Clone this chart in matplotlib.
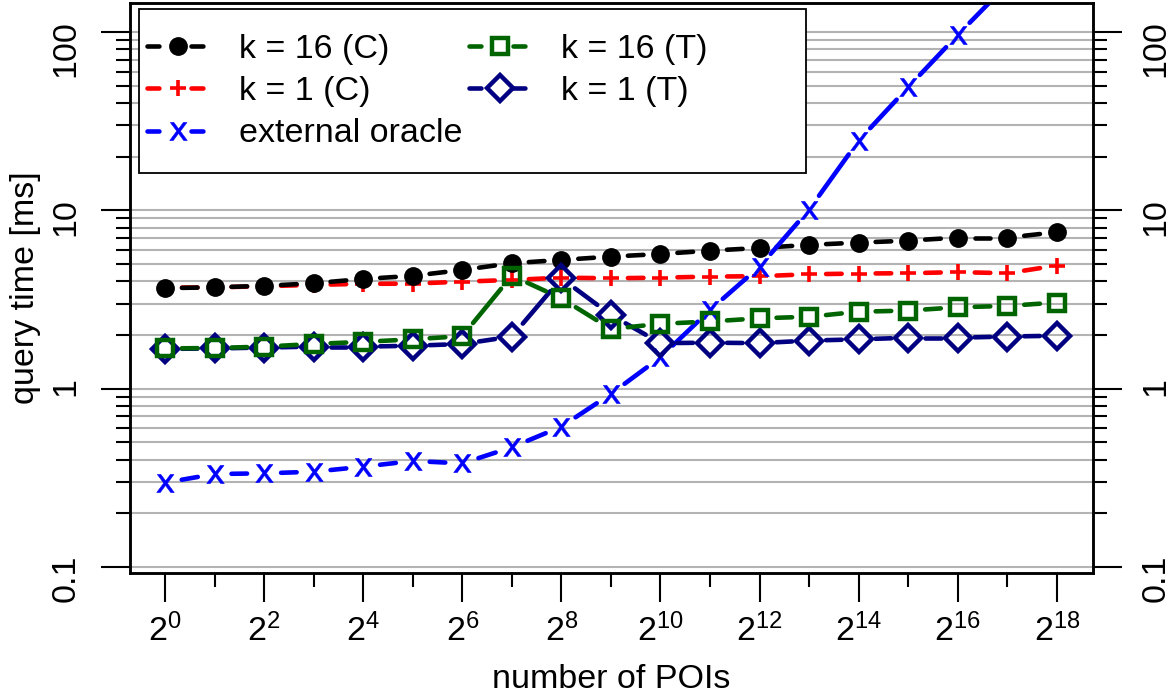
import numpy as np
import matplotlib
matplotlib.use('Agg')
import matplotlib.pyplot as plt
from matplotlib.collections import LineCollection
from matplotlib.lines import Line2D
from matplotlib.patches import Rectangle
from matplotlib.ticker import FixedLocator, NullFormatter

plt.rcParams['font.family'] = ['Liberation Sans', 'DejaVu Sans']
plt.rcParams['mathtext.default'] = 'regular'

# x = log2(number of POIs)
exponents = list(range(19))
xtick_pos = list(range(0, 19, 2))
xtick_labels = [r'$2^{%d}$' % e for e in xtick_pos]
ytick_pos = [0.1, 1, 10, 100]
ytick_labels = ['0.1', '1', '10', '100']

# query time [ms]
k16_C = [3.66, 3.70, 3.77, 3.90, 4.12, 4.29, 4.63, 5.05, 5.27, 5.50,
         5.69, 5.94, 6.15, 6.40, 6.59, 6.76, 7.03, 7.03, 7.54]
k1_C = [3.68, 3.70, 3.75, 3.82, 3.87, 3.88, 3.98, 4.07, 4.19, 4.16,
        4.19, 4.25, 4.27, 4.38, 4.42, 4.44, 4.50, 4.44, 4.90]
ext_oracle = [0.297, 0.332, 0.335, 0.342, 0.365, 0.393, 0.381, 0.469, 0.612, 0.934,
              1.50, 2.76, 4.83, 10.1, 24.6, 49.0, 96.3, 185, 360]
k16_T = [1.68, 1.69, 1.72, 1.78, 1.83, 1.89, 1.97, 4.30, 3.21, 2.16,
         2.31, 2.38, 2.48, 2.53, 2.70, 2.74, 2.86, 2.91, 3.04]
k1_T = [1.67, 1.68, 1.70, 1.72, 1.72, 1.74, 1.78, 1.96, 4.16, 2.59,
        1.80, 1.81, 1.80, 1.86, 1.89, 1.93, 1.93, 1.96, 1.98]

FS = 24.5
LW = 3.3
GAP = 17  # px left free around each point (like R type="b")

# label, values, color, marker, markersize, edgewidth, open?
series = [
    ('k = 16 (C)', k16_C, 'black', 'o', 12.5, 1, False),
    ('k = 1 (C)', k1_C, '#FF0000', '+', 12, 2.6, False),
    ('external oracle', ext_oracle, '#0000FF', r'$\mathsf{x}$', 13, 0.4, False),
    ('k = 16 (T)', k16_T, '#006400', 's', 11, 3.2, True),
    ('k = 1 (T)', k1_T, '#000080', 'D', 13.5, 3.2, True),
]
draw_order = [1, 0, 2, 4, 3]

fig = plt.figure(figsize=(11.76, 6.98), dpi=100)
ax = fig.add_axes([130/1176, 125/698, 963/1176, 570/698])
ax.set_yscale('log')
ax.set_xlim(-0.706, 18.73)
ax.set_ylim(0.0925, 145.4)


def gapped_segments(x, y, gap):
    pts = ax.transData.transform(np.column_stack([x, y]))
    inv = ax.transData.inverted()
    segs = []
    for p0, p1 in zip(pts[:-1], pts[1:]):
        d = p1 - p0
        L = np.hypot(d[0], d[1])
        if L <= 2*gap:
            continue
        u = d / L
        segs.append(inv.transform(np.array([p0 + u*gap, p1 - u*gap])))
    return segs


for z, i in enumerate(draw_order):
    label, vals, col, mk, ms, mew, hollow = series[i]
    lc = LineCollection(gapped_segments(exponents, vals, GAP), colors=col,
                        linewidths=LW, capstyle='round', zorder=3+z)
    ax.add_collection(lc)
    ax.plot(exponents, vals, linestyle='none', marker=mk, ms=ms, mew=mew,
            color=col, mfc='none' if hollow else col, zorder=3+z)

handles = []
for label, vals, col, mk, ms, mew, hollow in series:
    handles.append(Line2D([], [], color=col, lw=LW, linestyle=(0, (2.6, 7.0)),
                          dash_capstyle='round', marker=mk, ms=ms, mew=mew,
                          mfc='white' if hollow else col, label=label))

# grid
ax.set_axisbelow(True)
ax.yaxis.grid(True, which='both', color='#b3b3b3', lw=1.5)
ax.xaxis.grid(False)

# x axis
ax.xaxis.set_major_locator(FixedLocator(xtick_pos))
ax.set_xticklabels(xtick_labels)
ax.xaxis.set_minor_locator(FixedLocator([e for e in exponents if e % 2]))
ax.tick_params(axis='x', which='major', length=21, width=1.5, pad=8, labelsize=FS)
ax.tick_params(axis='x', which='minor', length=10, width=1.5)

# y axis (both sides)
ax2 = ax.twinx()
ax2.set_yscale('log')
ax2.set_ylim(ax.get_ylim())
for a, pad in ((ax, 14), (ax2, 13)):
    a.yaxis.set_major_locator(FixedLocator(ytick_pos))
    a.set_yticklabels(ytick_labels)
    a.yaxis.set_minor_formatter(NullFormatter())
    a.tick_params(axis='y', which='major', length=21, width=1.5, pad=pad,
                  labelsize=FS, labelrotation=90)
    a.tick_params(axis='y', which='minor', length=10, width=1.5)
    for s in a.spines.values():
        s.set_linewidth(1.8)

ax.set_xlabel('number of POIs', fontsize=FS, labelpad=12)
ax.set_ylabel('query time [ms]', fontsize=FS)
ax.yaxis.set_label_coords(-0.092, 0.5)

# legend box
ax.add_patch(Rectangle((9/963, 1 - 170/570), 667/963, 164/570, transform=ax.transAxes,
                       facecolor='white', edgecolor='black', lw=1.3, zorder=20))
leg = ax.legend(handles=handles, ncol=2, loc='upper left',
                bbox_to_anchor=(17/963, 1 - 31/570), frameon=False, fontsize=FS,
                borderpad=0, borderaxespad=0, handlelength=1.8, handletextpad=0.9,
                columnspacing=0.2, labelspacing=0.33)
leg.set_zorder(21)

fig.savefig('out.png', dpi=100)
